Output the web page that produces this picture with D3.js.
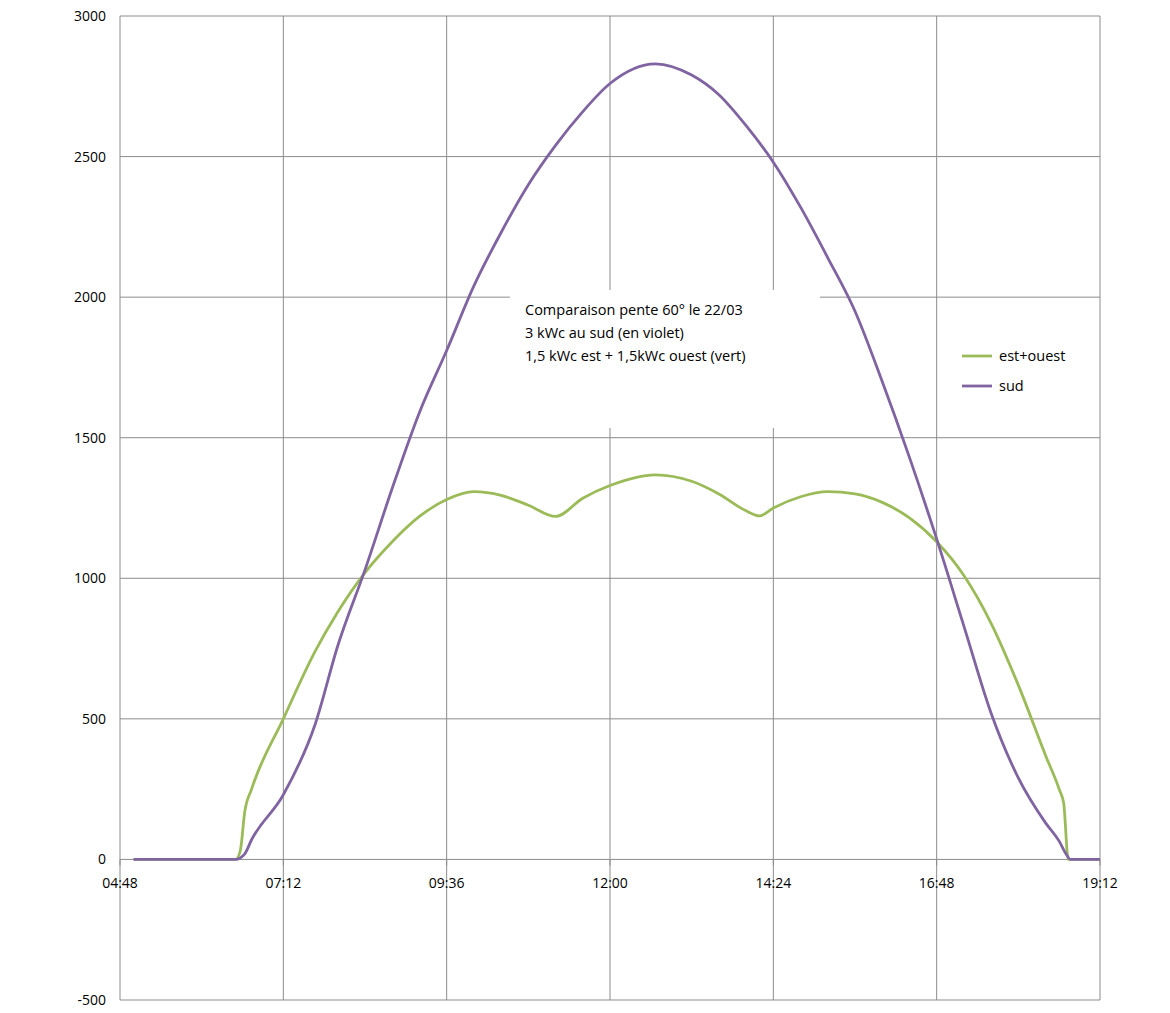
<!DOCTYPE html>
<html><head><meta charset="utf-8">
<script src="https://cdn.jsdelivr.net/npm/d3@7"></script>
<style>body{margin:0;background:#fff}text{font-family:"Open Sans",sans-serif}</style>
</head><body><div id="plot"></div>
<script>
const sudTimes = ["05:00","06:30","06:38","06:44","07:12","07:40","08:00","08:24","08:48","09:12","09:36","10:00","10:24","10:48","11:12","11:36","12:00","12:40","13:12","13:36","14:00","14:24","14:48","15:12","15:36","16:00","16:24","16:48","17:12","17:36","18:00","18:24","18:36","18:42","18:46","19:12"];
const sudValues = [0,0,20,70,230,480,760,1030,1320,1590,1810,2040,2230,2400,2540,2660,2760,2830,2790,2720,2610,2480,2320,2140,1950,1700,1430,1140,830,520,290,130,65,20,0,0];
const eoTimes = ["05:00","06:30","06:34","06:38","06:44","07:12","07:40","08:00","08:24","08:48","09:12","09:36","10:00","10:24","10:48","11:12","11:36","12:00","12:40","13:12","13:36","14:00","14:12","14:24","14:48","15:12","15:36","16:00","16:24","16:48","17:12","17:36","18:00","18:24","18:36","18:40","18:44","19:12"];
const eoValues = [0,0,30,170,250,500,740,880,1020,1130,1220,1280,1308,1295,1260,1220,1285,1330,1368,1345,1300,1240,1222,1250,1290,1308,1300,1270,1215,1130,1010,840,620,370,250,200,0,0];
const xTicks = ["04:48","07:12","09:36","12:00","14:24","16:48","19:12"];
const yTicks = [-500,0,500,1000,1500,2000,2500,3000];
const noteLines = ["Comparaison pente 60° le 22/03","3 kWc au sud (en violet)","1,5 kWc est + 1,5kWc ouest (vert)"];

const toMin = s => { const [h,m] = s.split(":").map(Number); return h*60+m; };
const W = 1170, H = 1013;
const x = d3.scaleLinear().domain([toMin("04:48"), toMin("19:12")]).range([120, 1100]);
const y = d3.scaleLinear().domain([-500, 3000]).range([1000, 16]);

const svg = d3.select("#plot").append("svg").attr("width", W).attr("height", H);

// grid
svg.append("g").selectAll("line").data(yTicks).join("line")
  .attr("x1", 120).attr("x2", 1100).attr("y1", d => y(d)).attr("y2", d => y(d))
  .attr("stroke", "#8c8c8c").attr("stroke-width", 1);
svg.append("g").selectAll("line").data(xTicks).join("line")
  .attr("y1", 16).attr("y2", 1000).attr("x1", d => x(toMin(d))).attr("x2", d => x(toMin(d)))
  .attr("stroke", "#8c8c8c").attr("stroke-width", 1);

// y labels
svg.append("g").selectAll("text").data(yTicks).join("text")
  .attr("x", 106).attr("y", d => y(d) + 5).attr("text-anchor", "end")
  .attr("font-size", 14).attr("fill", "#000").text(d => d);
// x labels
svg.append("g").selectAll("text").data(xTicks).join("text")
  .attr("x", d => x(toMin(d))).attr("y", y(0) + 29).attr("text-anchor", "middle")
  .attr("font-size", 14).attr("fill", "#000").text(d => d);
// zero-axis ticks
svg.append("g").selectAll("line").data(xTicks).join("line")
  .attr("x1", d => x(toMin(d))).attr("x2", d => x(toMin(d)))
  .attr("y1", y(0)).attr("y2", y(0) + 6).attr("stroke", "#8c8c8c");

// note box
svg.append("rect").attr("x", 510).attr("y", 290).attr("width", 310).attr("height", 138).attr("fill", "#fff");
svg.append("g").selectAll("text").data(noteLines).join("text")
  .attr("x", 525).attr("y", (d, i) => 315 + i * 23).attr("font-size", 14.5).text(d => d);

const line = d3.line().x(d => x(toMin(d[0]))).y(d => y(d[1])).curve(d3.curveMonotoneX);
svg.append("path").datum(eoTimes.map((t, i) => [t, eoValues[i]]))
  .attr("d", line).attr("fill", "none").attr("stroke", "#9bbb59").attr("stroke-width", 2.8);
svg.append("path").datum(sudTimes.map((t, i) => [t, sudValues[i]]))
  .attr("d", line).attr("fill", "none").attr("stroke", "#8064a2").attr("stroke-width", 2.8);

// legend
const legend = [["est+ouest", "#9bbb59"], ["sud", "#8064a2"]];
const lg = svg.append("g").selectAll("g").data(legend).join("g")
  .attr("transform", (d, i) => `translate(962,${356 + i * 30})`);
lg.append("line").attr("x1", 0).attr("x2", 30).attr("stroke", d => d[1]).attr("stroke-width", 2.8);
lg.append("text").attr("x", 37).attr("y", 5).attr("font-size", 14.5).text(d => d[0]);
</script></body></html>
